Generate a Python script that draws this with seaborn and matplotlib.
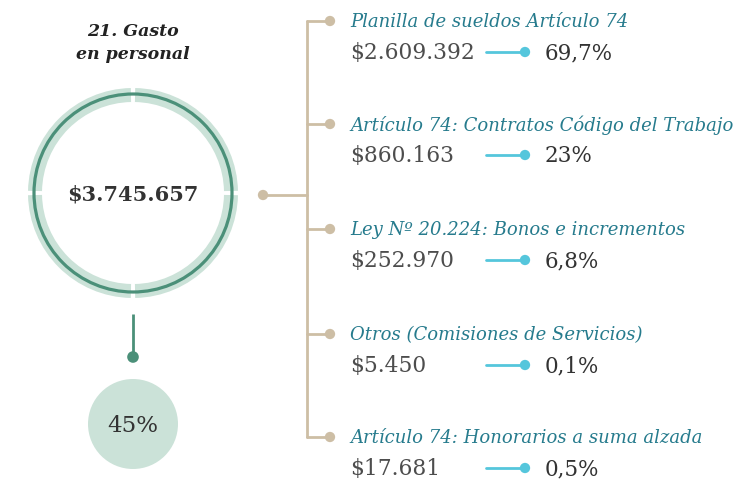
import matplotlib
matplotlib.use("Agg")
import matplotlib.pyplot as plt
import numpy as np
import pandas as pd
import seaborn as sns
from matplotlib.patches import Wedge, Circle

# ---- data ----
titulo = "21. Gasto\nen personal"
total = "$3.745.657"
share = "45%"
labels = [
    "Planilla de sueldos Artículo 74",
    "Artículo 74: Contratos Código del Trabajo",
    "Ley Nº 20.224: Bonos e incrementos",
    "Otros (Comisiones de Servicios)",
    "Artículo 74: Honorarios a suma alzada",
]
amounts = ["$2.609.392", "$860.163", "$252.970", "$5.450", "$17.681"]
percents = ["69,7%", "23%", "6,8%", "0,1%", "0,5%"]

# colores
LIGHT_GREEN = "#cbe2d8"
DARK_GREEN = "#4b9079"
TAN = "#cdbea5"
CYAN = "#55c6dc"
TEAL = "#267b8d"
GREY = "#4d4d4d"
DARK = "#333333"

sns.set_theme(style="white")
plt.rcParams['font.family'] = ['DejaVu Serif']

fig = plt.figure(figsize=(7.37, 4.81), dpi=100)
ax = fig.add_axes([0, 0, 1, 1])
ax.set_xlim(0, 737)
ax.set_ylim(481, 0)
ax.axis('off')

# ---- circulo principal ----
cx, cy = 133, 194
for a0 in [0, 90, 180, 270]:
    ax.add_patch(Wedge((cx, cy), 105, a0 + 1.2, a0 + 88.8, width=14,
                       facecolor=LIGHT_GREEN, edgecolor='none'))
ax.add_patch(Circle((cx, cy), 99, fill=False, edgecolor=DARK_GREEN, linewidth=2.3))
ax.text(cx, cy + 1, total, ha='center', va='center', fontsize=15,
        fontweight='bold', color=DARK)
ax.text(cx, 43, titulo, ha='center', va='center', fontsize=12.5,
        fontweight='bold', fontstyle='italic', color='#222222', linespacing=1.45)

# conector hacia el porcentaje
ax.plot([cx, cx], [315, 357], color=DARK_GREEN, linewidth=2, solid_capstyle='butt')
sns.scatterplot(x=[cx], y=[358], s=70, color=DARK_GREEN, edgecolor='none', ax=ax, legend=False)
ax.add_patch(Circle((cx, 425), 45, facecolor=LIGHT_GREEN, edgecolor='none'))
ax.text(cx, 426, share, ha='center', va='center', fontsize=16.5, color=DARK)

# ---- arbol de desglose ----
y_labels = np.array([22, 125, 230, 335, 438])
y_amounts = y_labels + 31
df = pd.DataFrame({"label": labels, "amount": amounts, "pct": percents,
                   "y_lab": y_labels, "y_amt": y_amounts})

ax.plot([263, 307], [196, 196], color=TAN, linewidth=2)
ax.plot([307, 307], [y_labels[0], y_labels[-1]], color=TAN, linewidth=2)
for y in df['y_lab']:
    ax.plot([307, 330], [y, y], color=TAN, linewidth=2)
sns.scatterplot(x=[263] + [330] * len(df), y=[196] + list(df['y_lab']), s=55,
                color=TAN, edgecolor='none', ax=ax, legend=False, zorder=3)

for _, r in df.iterrows():
    ax.text(350, r['y_lab'], r['label'], ha='left', va='center', fontsize=13,
            fontstyle='italic', color=TEAL)
    ax.text(350, r['y_amt'], r['amount'], ha='left', va='center', fontsize=15.7,
            color=GREY)
    ax.plot([486, 524], [r['y_amt'], r['y_amt']], color=CYAN, linewidth=2)
    ax.text(545, r['y_amt'], r['pct'], ha='left', va='center', fontsize=15.5,
            color=DARK)
sns.scatterplot(x=[525] * len(df), y=df['y_amt'], s=55, color=CYAN,
                edgecolor='none', ax=ax, legend=False, zorder=3)

fig.savefig("out.png", dpi=100)
